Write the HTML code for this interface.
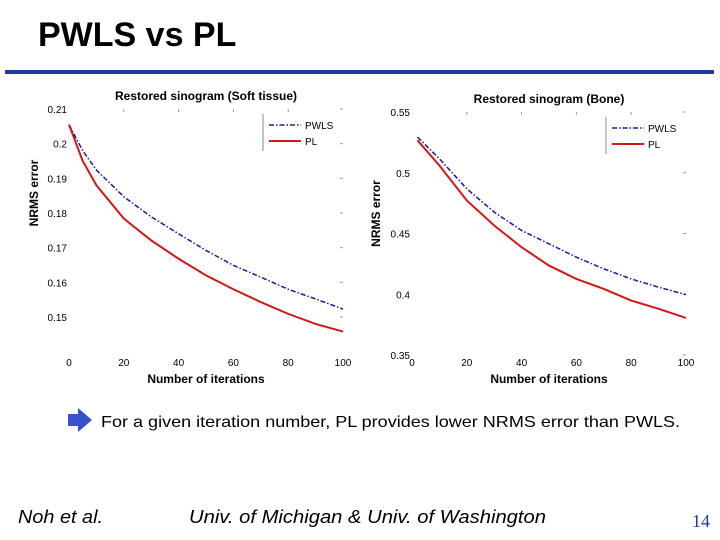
<!DOCTYPE html>
<html><head><meta charset="utf-8"><style>
body{margin:0;width:720px;height:540px;background:#fff;overflow:hidden;position:relative;font-family:"Liberation Sans",sans-serif}
.a{position:absolute}
</style></head><body>
<div class="a" style="left:5px;top:70px;width:709px;height:4px;background:#1f3a99"></div>
<svg class="a" style="left:0;top:0" width="720" height="540">
<text x="38" y="46" font-size="34" font-weight="bold">PWLS vs PL</text>
<g id="c1"></g>
<g id="c2"></g>
<path d="M68,414 h10 v-6 l14,12 l-14,12 v-6 h-10 z" fill="#3a4fd0"/>
<text x="101" y="427" font-size="16" textLength="579" lengthAdjust="spacingAndGlyphs">For a given iteration number, PL provides lower NRMS error than PWLS.</text>
<text x="18" y="523" font-size="18" font-style="italic" textLength="85" lengthAdjust="spacingAndGlyphs">Noh et al.</text>
<text x="189" y="523" font-size="18" font-style="italic" textLength="357" lengthAdjust="spacingAndGlyphs">Univ. of Michigan &amp; Univ. of Washington</text>
<text x="692" y="527" font-size="18" fill="#1f3a99" font-family="Liberation Serif, serif">14</text>
</svg>
<script>
const xIter=[0,5,10,20,30,40,50,60,70,80,90,100];
const softPWLS=[0.2055,0.198,0.1924,0.1847,0.1789,0.174,0.1692,0.1649,0.1615,0.158,0.1552,0.1523];
const softPL=[0.2055,0.195,0.188,0.1784,0.1721,0.1668,0.162,0.158,0.1543,0.1509,0.148,0.1458];
const boneX=[2,10,20,30,40,50,60,70,80,90,100];
const bonePWLS=[0.5294,0.5115,0.4868,0.4676,0.4525,0.4415,0.4305,0.4209,0.4126,0.4058,0.3997];
const bonePL=[0.5267,0.506,0.4772,0.4566,0.4387,0.4236,0.4126,0.4044,0.3948,0.388,0.3805];
const xTicks=[0,20,40,60,80,100];
const softTicks=[0.15,0.16,0.17,0.18,0.19,0.2,0.21];
const softLabels=["0.15","0.16","0.17","0.18","0.19","0.2","0.21"];
const boneTicks=[0.35,0.4,0.45,0.5,0.55];
const boneLabels=["0.35","0.4","0.45","0.5","0.55"];
const NS="http://www.w3.org/2000/svg";
function mk(p,t,a,txt){const e=document.createElementNS(NS,t);for(const k in a)e.setAttribute(k,a[k]);if(txt!=null)e.textContent=txt;p.appendChild(e);return e;}
function chart(g,o){
 const sx=v=>o.x0+(v-0)/100*(o.x1-o.x0);
 const sy=v=>o.yTop+(o.vTop-v)/(o.vTop-o.vBot)*(o.yBot-o.yTop);
 let t=mk(g,'text',{x:(o.x0+o.x1)/2,y:o.yTop-9,'text-anchor':'middle','font-size':12,'font-weight':'bold'},o.title);
 
 xTicks.forEach(v=>{const l=mk(g,'text',{x:sx(v),y:o.xLabY,'text-anchor':'middle','font-size':10},String(v));
  
  if(v>0&&v<100){mk(g,'line',{x1:sx(v),x2:sx(v),y1:o.yTop,y2:o.yTop+3,stroke:'#999'});}});
 o.yt.forEach((v,i)=>{const l=mk(g,'text',{x:o.x0-2,y:sy(v)+4,'text-anchor':'end','font-size':10},o.yl[i]);
  
  mk(g,'line',{x1:o.x1-3,x2:o.x1,y1:sy(v),y2:sy(v),stroke:'#999'});});
 const xl=mk(g,'text',{x:(o.x0+o.x1)/2,y:o.xLabY+17,'text-anchor':'middle','font-size':12,'font-weight':'bold'},'Number of iterations');
 
 const cy=(o.yTop+o.yBot)/2-20;
 const yl=mk(g,'text',{x:o.yLabX,y:cy,'text-anchor':'middle','font-size':12,'font-weight':'bold',transform:`rotate(-90 ${o.yLabX} ${cy})`},'NRMS error');
 
 const line=(xs,ys,c,d,n)=>{const p=mk(g,'polyline',{points:xs.map((x,i)=>sx(x)+','+sy(ys[i])).join(' '),fill:'none',stroke:c,'stroke-width':d?1.5:2,'stroke-dasharray':d||'none'});
  };
 line(o.xs,o.a,'#1a1aa0','5,2,1.5,2','pwls-line');
 line(o.xs,o.b,'#d01818',null,'pl-line');
 const lx=o.x1-80,ly=o.yTop+5;
 mk(g,'line',{x1:lx,x2:lx,y1:ly,y2:ly+37,stroke:'#888'});
 mk(g,'line',{x1:lx+6,x2:lx+38,y1:ly+11,y2:ly+11,stroke:'#1a1aa0','stroke-width':1.5,'stroke-dasharray':'5,2,1.5,2'});
 mk(g,'line',{x1:lx+6,x2:lx+38,y1:ly+27,y2:ly+27,stroke:'#d01818','stroke-width':2});
 let e=mk(g,'text',{x:lx+42,y:ly+15,'font-size':10},'PWLS');
 e=mk(g,'text',{x:lx+42,y:ly+31,'font-size':10},'PL');
}
chart(document.getElementById('c1'),{x0:69,x1:343,yTop:109,yBot:317,vTop:0.21,vBot:0.15,xLabY:366,yLabX:38,title:'Restored sinogram (Soft tissue)',yt:softTicks,yl:softLabels,xs:xIter,a:softPWLS,b:softPL});
chart(document.getElementById('c2'),{x0:412,x1:686,yTop:112,yBot:355,vTop:0.55,vBot:0.35,xLabY:366,yLabX:380,title:'Restored sinogram (Bone)',yt:boneTicks,yl:boneLabels,xs:boneX,a:bonePWLS,b:bonePL});
</script>
</body></html>
